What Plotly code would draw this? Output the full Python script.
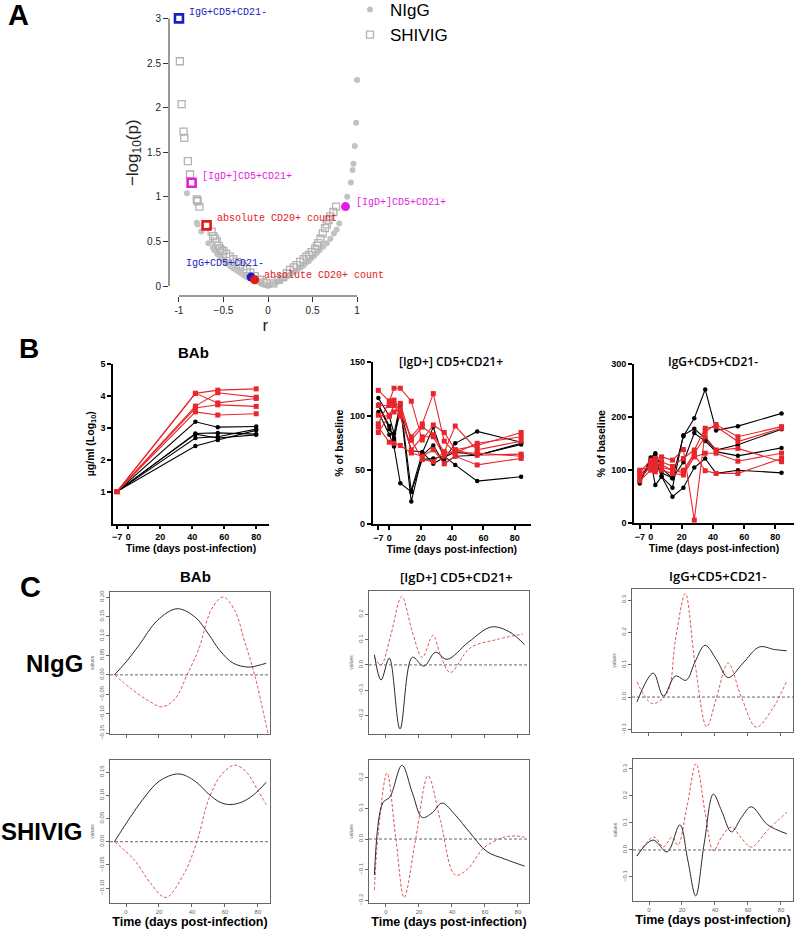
import plotly.graph_objects as go

W, H = 795, 932

# ---------------- A: correlation r vs -log10(p) ----------------
nigg_r = [-0.91, -0.80, -0.79, -0.75, -0.67, -0.62, -0.60, -0.57, -0.54, -0.51, -0.48, -0.45,
          -0.42, -0.39, -0.36, -0.33, -0.30, -0.27, -0.24, -0.21, -0.13, -0.10, -0.08, -0.06,
          -0.04, -0.02, 0.0, 0.02, 0.04, 0.07, 0.10, 0.13, 0.16, 0.19, 0.22, 0.25, 0.28, 0.31,
          0.34, 0.37, 0.40, 0.43, 0.46, 0.49, 0.52, 0.55, 0.58, 0.62, 0.66, 0.70, 0.74, 0.77,
          0.80, 0.89, 0.93, 0.95, 0.96, 0.974, 0.99, 1.0]
nigg_p = [1.04, 0.71, 0.69, 0.61, 0.48, 0.43, 0.40, 0.36, 0.33, 0.30, 0.27, 0.25,
          0.22, 0.20, 0.18, 0.16, 0.14, 0.12, 0.10, 0.09, 0.06, 0.045, 0.035, 0.025,
          0.015, 0.01, 0.0, 0.01, 0.02, 0.03, 0.045, 0.06, 0.075, 0.09, 0.11, 0.13, 0.15, 0.17,
          0.19, 0.21, 0.23, 0.26, 0.28, 0.31, 0.34, 0.37, 0.40, 0.44, 0.48, 0.53, 0.59, 0.63,
          0.70, 1.0, 1.16, 1.30, 1.37, 1.57, 1.83, 2.31]
shivig_r = [-0.99, -0.97, -0.948, -0.94, -0.90, -0.876, -0.80, -0.79, -0.77, -0.633, -0.615,
            -0.595, -0.577, -0.555, -0.54, -0.52, -0.50, -0.47, -0.43, -0.39, -0.35, -0.31,
            -0.28, -0.24, -0.20, -0.15, -0.09, -0.05, -0.015, 0.06, 0.12, 0.17, 0.21, 0.247,
            0.29, 0.32, 0.36, 0.40, 0.43, 0.46, 0.49, 0.53, 0.55, 0.566, 0.59, 0.614, 0.64,
            0.66, 0.68, 0.70, 0.734, 0.764]
shivig_p = [2.52, 2.04, 1.73, 1.66, 1.40, 1.25, 0.97, 0.95, 0.89, 0.61, 0.56,
            0.53, 0.50, 0.45, 0.42, 0.40, 0.39, 0.36, 0.33, 0.30, 0.27, 0.24,
            0.22, 0.19, 0.15, 0.11, 0.07, 0.04, 0.03, 0.03, 0.07, 0.10, 0.14, 0.18,
            0.21, 0.235, 0.27, 0.30, 0.33, 0.35, 0.38, 0.42, 0.45, 0.48, 0.53, 0.59, 0.65,
            0.69, 0.74, 0.78, 0.83, 0.89]

hl_labels = ["IgG+CD5+CD21-", "[IgD+]CD5+CD21+", "absolute CD20+ count"]
hl_colors = ["#1c1cc4", "#e21ee2", "#e31a1a"]
hl_shivig_r = [-1.0, -0.858, -0.69]
hl_shivig_p = [3.0, 1.157, 0.68]
hl_nigg_r = [-0.19, 0.87, -0.15]
hl_nigg_p = [0.10, 0.89, 0.07]

a_xticks = [-1, -0.5, 0, 0.5, 1]
a_xtext = ["-1", "\u22120.5", "0", "0.5", "1"]
a_yticks = [0, 0.5, 1, 1.5, 2, 2.5, 3]
a_ytext = ["0", "0.5", "1", "1.5", "2", "2.5", "3"]

# ---------------- B: measured data ----------------
bab_days = [-7, 42, 56, 80]
bab_nigg = [[1, 3.19, 3.02, 3.04],
            [1, 2.82, 2.84, 2.80],
            [1, 2.68, 2.72, 2.96],
            [1, 2.43, 2.62, 2.92],
            [1, 2.80, 2.68, 2.78]]
bab_shivig = [[1, 4.08, 4.18, 4.22],
              [1, 4.08, 3.78, 3.92],
              [1, 3.68, 4.10, 3.96],
              [1, 3.62, 3.72, 3.67],
              [1, 3.50, 3.40, 3.44]]

cell_days = [-7, 0, 3, 7, 14, 21, 28, 35, 42, 56, 84]
igd_nigg = [[117, 100, 84, 112, 31, 66, 90, 60, 75, 86, 76],
            [111, 91, 78, 110, 21, 64, 73, 56, 63, 64, 75],
            [104, 83, 72, 38, 30, 60, 61, 63, 55, 40, 44],
            [110, 88, 80, 105, 68, 67, 56, 62, 67, 64, 74]]
igd_shivig = [[124, 114, 126, 126, 114, 78, 92, 85, 69, 73, 85],
              [110, 110, 115, 103, 81, 93, 121, 77, 66, 75, 81],
              [101, 100, 104, 107, 78, 90, 83, 67, 91, 69, 77],
              [93, 114, 111, 100, 69, 81, 81, 63, 69, 64, 65],
              [90, 76, 75, 73, 66, 63, 69, 56, 63, 55, 61],
              [85, 101, 110, 112, 78, 60, 58, 67, 66, 66, 63]]
igg_nigg = [[75, 124, 132, 104, 85, 164, 198, 252, 175, 183, 207],
            [78, 120, 129, 88, 67, 166, 178, 160, 138, 148, 177],
            [80, 118, 72, 88, 50, 67, 105, 122, 94, 100, 95],
            [82, 110, 110, 95, 85, 115, 170, 155, 135, 127, 142]]
igg_shivig = [[97, 119, 122, 125, 119, 139, 6, 173, 186, 163, 182],
              [90, 113, 113, 116, 107, 122, 138, 179, 182, 154, 179],
              [85, 107, 104, 110, 100, 100, 132, 163, 138, 141, 116],
              [80, 100, 97, 100, 94, 91, 125, 132, 132, 117, 132],
              [100, 108, 110, 105, 100, 95, 130, 99, 94, 94, 122]]

time_ticks = [-7, 0, 20, 40, 60, 80]

# ---------------- C: functional model curves ----------------
bab_n_blk_t = [-7, 0, 8, 19, 31, 42, 50, 57, 65, 74, 80, 85]
bab_n_blk_v = [0, 0.033, 0.077, 0.14, 0.17, 0.148, 0.105, 0.062, 0.03, 0.02, 0.024, 0.03]
bab_n_red_t = [-7, 3, 13, 22, 30, 37, 44, 52, 59, 66, 72, 78, 86]
bab_n_red_v = [0, -0.035, -0.065, -0.082, -0.06, 0.0, 0.065, 0.17, 0.2, 0.165, 0.085, 0.0, -0.15]
bab_s_blk_t = [-7, 3, 10, 20, 32, 42, 50, 57, 63, 70, 77, 85]
bab_s_blk_v = [0, 0.055, 0.09, 0.13, 0.146, 0.13, 0.103, 0.085, 0.08, 0.085, 0.1, 0.128]
bab_s_red_t = [-7, 5, 15, 24, 35, 43, 50, 58, 66, 73, 80, 85]
bab_s_red_v = [0, -0.039, -0.09, -0.12, -0.07, 0.0, 0.09, 0.145, 0.165, 0.15, 0.11, 0.08]

igd_n_blk_t = [-7, -3, 2, 8.5, 16, 23, 30, 37, 50, 64, 75, 84]
igd_n_blk_v = [0.04, -0.06, 0.027, -0.253, 0.03, -0.005, 0.05, 0.022, 0.09, 0.15, 0.13, 0.08]
igd_n_red_t = [-7, -3, 3, 9.5, 16, 22, 28.5, 33, 39, 51, 67, 83]
igd_n_red_v = [0.03, 0.0, 0.12, 0.27, 0.13, 0.03, 0.117, 0.04, -0.03, 0.067, 0.1, 0.122]
igd_s_blk_t = [-7, -2, 2.4, 9.7, 16, 22, 28, 34, 42, 51, 61, 72, 84]
igd_s_blk_v = [-0.117, 0.117, 0.137, 0.24, 0.15, 0.07, 0.085, 0.117, 0.078, 0.02, -0.04, -0.065, -0.088]
igd_s_red_t = [-7, -5, 0.6, 6, 11, 18, 25.5, 33, 42, 50, 59, 71, 78, 84]
igd_s_red_v = [-0.166, 0.0, 0.215, 0.0, -0.19, 0.0, 0.205, 0.06, -0.117, -0.095, -0.03, 0.005, 0.01, 0.006]

igg_n_blk_t = [-7.3, 2.6, 8.7, 16, 22.5, 28, 34, 41, 48, 57, 67, 76, 83.5]
igg_n_blk_v = [-0.015, 0.074, 0.003, 0.065, 0.052, 0.11, 0.16, 0.115, 0.06, 0.105, 0.155, 0.147, 0.143]
igg_n_red_t = [-7.3, 2, 11, 16, 22, 28, 35, 41, 48, 56, 65, 75, 83.5]
igg_n_red_v = [0.047, -0.02, 0.013, 0.176, 0.32, 0.1, -0.092, 0.0, 0.105, 0.0, -0.093, -0.035, 0.05]
igg_s_blk_t = [-7.3, 2.4, 11, 18.7, 23.5, 28.3, 33.5, 39, 44, 50, 56, 62, 72, 83.6]
igg_s_blk_v = [-0.022, 0.037, -0.007, 0.093, -0.037, -0.17, 0.026, 0.207, 0.145, 0.067, 0.12, 0.16, 0.093, 0.06]
igg_s_red_t = [-7.3, 3, 8.7, 14, 17.5, 23, 28.5, 34, 39, 44, 50, 56, 62, 72, 83.6]
igg_s_red_v = [-0.022, 0.048, 0.011, 0.048, 0.018, 0.16, 0.32, 0.14, -0.003, 0.048, 0.085, 0.044, 0.011, 0.074, 0.14]

c_xticks = [0, 20, 40, 60, 80]


def xdom(a, b):
    return [a / W, b / W]


def ydom(top, bottom):
    return [1 - bottom / H, 1 - top / H]


RED = "#e8262b"
fig = go.Figure()

# ---- A traces ----
fig.add_trace(go.Scatter(x=nigg_r, y=nigg_p, mode="markers", name="NIgG",
                         marker=dict(color="#c2c2c2", size=6), xaxis="x", yaxis="y"))
fig.add_trace(go.Scatter(x=shivig_r, y=shivig_p, mode="markers", name="SHIVIG",
                         marker=dict(symbol="square-open", color="#b3b3b3", size=7, line=dict(width=1.3)),
                         xaxis="x", yaxis="y"))
for i in range(3):
    fig.add_trace(go.Scatter(x=[hl_shivig_r[i]], y=[hl_shivig_p[i]], mode="markers", showlegend=False,
                             marker=dict(symbol="square-open", color=hl_colors[i], size=8, line=dict(width=2.6)),
                             xaxis="x", yaxis="y"))
    fig.add_trace(go.Scatter(x=[hl_nigg_r[i]], y=[hl_nigg_p[i]], mode="markers", showlegend=False,
                             marker=dict(color=hl_colors[i], size=9), xaxis="x", yaxis="y"))

# label offsets (px): (xanchor, xshift, yshift)
sq_off = [("left", 8, 6), ("left", 8, 6), ("left", 8, 7)]
ci_off = [("left", -67, 14), ("left", 9, 4), ("left", 7, 4)]
annotations = []
for i in range(3):
    for rr, pp, off in ((hl_shivig_r[i], hl_shivig_p[i], sq_off[i]), (hl_nigg_r[i], hl_nigg_p[i], ci_off[i])):
        annotations.append(dict(x=rr, y=pp, xref="x", yref="y", text=hl_labels[i], showarrow=False,
                                xanchor=off[0], yanchor="middle", xshift=off[1], yshift=off[2],
                                font=dict(family="Liberation Mono", size=10, color=hl_colors[i])))

# ---- B traces ----
b_panels = [("x2", "y2", bab_days, bab_nigg, bab_shivig),
            ("x3", "y3", cell_days, igd_nigg, igd_shivig),
            ("x4", "y4", cell_days, igg_nigg, igg_shivig)]
for xa, ya, days, blk, red in b_panels:
    for vals in blk:
        fig.add_trace(go.Scatter(x=days, y=vals, mode="lines+markers", showlegend=False,
                                 line=dict(color="black", width=1.1),
                                 marker=dict(symbol="circle", size=4.5, color="black"),
                                 xaxis=xa, yaxis=ya, cliponaxis=False))
    for vals in red:
        fig.add_trace(go.Scatter(x=days, y=vals, mode="lines+markers", showlegend=False,
                                 line=dict(color=RED, width=1.1),
                                 marker=dict(symbol="square", size=5, color=RED),
                                 xaxis=xa, yaxis=ya, cliponaxis=False))

# ---- C traces ----
c_panels = [("x5", "y5", bab_n_blk_t, bab_n_blk_v, bab_n_red_t, bab_n_red_v),
            ("x6", "y6", igd_n_blk_t, igd_n_blk_v, igd_n_red_t, igd_n_red_v),
            ("x7", "y7", igg_n_blk_t, igg_n_blk_v, igg_n_red_t, igg_n_red_v),
            ("x8", "y8", bab_s_blk_t, bab_s_blk_v, bab_s_red_t, bab_s_red_v),
            ("x9", "y9", igd_s_blk_t, igd_s_blk_v, igd_s_red_t, igd_s_red_v),
            ("x10", "y10", igg_s_blk_t, igg_s_blk_v, igg_s_red_t, igg_s_red_v)]
shapes = []
for xa, ya, bt, bv, rt, rv in c_panels:
    shapes.append(dict(type="line", xref=xa + " domain", yref=ya, x0=0, x1=1, y0=0, y1=0,
                       line=dict(color="#666", width=1, dash="3px,2px")))
    fig.add_trace(go.Scatter(x=rt, y=rv, mode="lines", showlegend=False,
                             line=dict(color="#e05555", width=1, dash="3px,2px", shape="spline", smoothing=1),
                             xaxis=xa, yaxis=ya))
    fig.add_trace(go.Scatter(x=bt, y=bv, mode="lines", showlegend=False,
                             line=dict(color="#2a2a2a", width=1, shape="spline", smoothing=1),
                             xaxis=xa, yaxis=ya))

# ---- A axis lines (R style, only spanning the ticks) ----
shapes.append(dict(type="line", xref="x", yref="y domain", x0=-1, x1=1, y0=0, y1=0,
                   line=dict(color="#333", width=1)))
shapes.append(dict(type="line", xref="x domain", yref="y", x0=0, x1=0, y0=0, y1=3,
                   line=dict(color="#333", width=1)))

base_font = "Liberation Sans"
layout_axes = {}

layout_axes["xaxis"] = dict(domain=xdom(169, 361.5), range=[-1.112, 1.05], anchor="y",
                            tickvals=a_xticks, ticktext=a_xtext, ticks="outside", ticklen=5,
                            tickcolor="#333", showline=False, showgrid=False, zeroline=False,
                            tickfont=dict(family=base_font, size=10, color="#222"),
                            title=dict(text="r", font=dict(family=base_font, size=17, color="#222"), standoff=2))
layout_axes["yaxis"] = dict(domain=ydom(9.5, 296), range=[-0.112, 3.1], anchor="x",
                            tickvals=a_yticks, ticktext=a_ytext, ticks="outside", ticklen=5,
                            tickcolor="#333", showline=False, showgrid=False, zeroline=False,
                            tickfont=dict(family=base_font, size=10, color="#222"),
                            title=dict(text="\u2212log<sub>10</sub>(p)", font=dict(family=base_font, size=17, color="#222"),
                                       standoff=4))

prism_tick = dict(family=base_font, size=9, color="black", weight="bold")
prism_title = dict(family=base_font, size=10.5, color="black", weight="bold")
b_specs = [  # x domain px, x range, y domain px, y range, y ticks, y title
    ("2", (113, 269), [-9.5, 88], (364, 523.5), [0, 5], [1, 2, 3, 4, 5], "\u00b5g/ml (Log<sub>10</sub>)"),
    ("3", (372.7, 531), [-10.6, 90.3], (362.3, 524.3), [0, 150], [0, 50, 100, 150], "% of baseline"),
    ("4", (634, 794), [-10.7, 92], (364, 523.3), [0, 300], [0, 100, 200, 300], "% of baseline"),
]
for n, xd, xr, yd, yr, yt, ytitle in b_specs:
    layout_axes["xaxis" + n] = dict(domain=xdom(*xd), range=xr, anchor="y" + n, tickvals=time_ticks,
                                    ticks="outside", ticklen=4, tickwidth=1.5, tickcolor="black",
                                    showline=True, linecolor="black", linewidth=1.6, showgrid=False,
                                    zeroline=False, tickfont=prism_tick,
                                    title=dict(text="Time (days post-infection)", font=prism_title, standoff=2))
    layout_axes["yaxis" + n] = dict(domain=ydom(*yd), range=yr, anchor="x" + n, tickvals=yt,
                                    ticks="outside", ticklen=4, tickwidth=1.5, tickcolor="black",
                                    showline=True, linecolor="black", linewidth=1.6, showgrid=False,
                                    zeroline=False, tickfont=prism_tick,
                                    title=dict(text=ytitle, font=prism_title, standoff=4))

c_specs = [  # axis number, x domain px, x range, y domain px, y range, dtick, format, show x labels
    ("5", (110, 270), [-9.7, 87.3], (592, 734), [-0.152, 0.213], 0.05, ".2f", False),
    ("6", (369, 529), [-10.3, 86.7], (591, 734), [-0.273, 0.292], 0.1, ".1f", False),
    ("7", (632, 793), [-10.3, 87.3], (589, 732), [-0.108, 0.334], 0.1, ".1f", False),
    ("8", (110, 270), [-9.7, 87.3], (760, 903), [-0.132, 0.176], 0.05, ".2f", True),
    ("9", (369, 529), [-10.3, 86.7], (760, 903), [-0.208, 0.257], 0.1, ".1f", True),
    ("10", (633, 793), [-9.7, 87.3], (759, 901), [-0.189, 0.337], 0.1, ".1f", True),
]
r_tick = dict(family=base_font, size=6, color="#666")
for n, xd, xr, yd, yr, dt, fmt, showx in c_specs:
    xax = dict(domain=xdom(*xd), range=xr, anchor="y" + n, tickvals=c_xticks, ticks="outside",
               ticklen=3, tickcolor="#666", showline=True, mirror=True, linecolor="#666", linewidth=1,
               showgrid=False, zeroline=False, tickfont=r_tick, showticklabels=showx)
    if showx:
        xax["title"] = dict(text="Time (days post-infection)",
                            font=dict(family=base_font, size=12.5, color="black", weight="bold"), standoff=3)
    layout_axes["xaxis" + n] = xax
    layout_axes["yaxis" + n] = dict(domain=ydom(*yd), range=yr, anchor="x" + n, dtick=dt, tick0=0,
                                    tickformat=fmt, ticks="outside", ticklen=3, tickcolor="#666",
                                    showline=True, mirror=True, linecolor="#666", linewidth=1,
                                    showgrid=False, zeroline=False, tickfont=r_tick, tickangle=-90,
                                    title=dict(text="values", font=dict(family=base_font, size=5, color="#666"),
                                               standoff=3))

# ---- text labels ----
def paper_text(text, x, y, size, family=base_font, weight="bold", color="black"):
    return dict(text=text, x=x / W, y=1 - y / H, xref="paper", yref="paper", showarrow=False,
                xanchor="center", yanchor="middle", font=dict(family=family, size=size, color=color, weight=weight))


annotations += [
    paper_text("A", 18, 15, 29),
    paper_text("B", 29, 348, 28),
    paper_text("C", 30, 587, 29),
    paper_text("BAb", 193, 352, 15),
    paper_text("[IgD+] CD5+CD21+", 451, 362, 12, family="Open Sans", weight=600),
    paper_text("IgG+CD5+CD21-", 713, 362, 12, family="Open Sans", weight=600),
    paper_text("BAb", 195, 576, 15),
    paper_text("[IgD+] CD5+CD21+", 456, 577, 13, family="Open Sans", weight=600),
    paper_text("IgG+CD5+CD21-", 718, 576, 13, family="Open Sans", weight=600),
    paper_text("NIgG", 54, 663, 24),
    paper_text("SHIVIG", 41, 831, 24),
]

fig.update_layout(
    width=W, height=H,
    margin=dict(l=0, r=0, t=0, b=0, autoexpand=False),
    paper_bgcolor="white", plot_bgcolor="white",
    font=dict(family=base_font),
    legend=dict(x=350 / W, y=1 + 8 / H, xanchor="left", yanchor="top",
                font=dict(family="Liberation Sans Narrow, Liberation Sans", size=17, color="black"),
                bgcolor="rgba(0,0,0,0)", itemwidth=30, tracegroupgap=0),
    shapes=shapes,
    annotations=annotations,
    **layout_axes,
)

# drop the browser's default body margin so the figure sits at the page origin
fig.write_html("out.html", config={"displayModeBar": False},
               post_script="document.body.style.margin='0';")
